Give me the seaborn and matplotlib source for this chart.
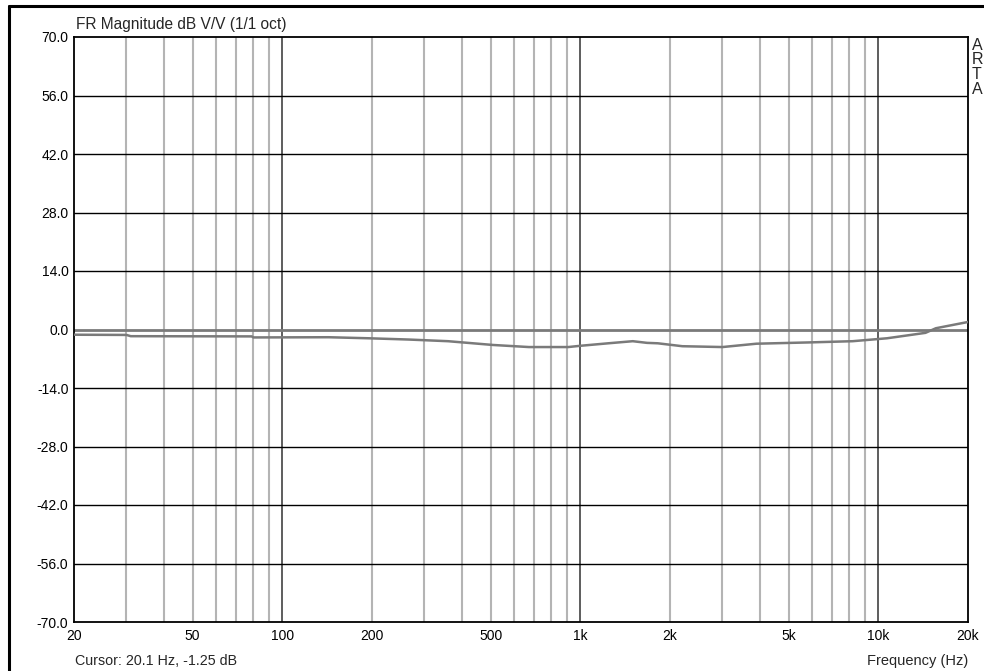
import matplotlib
matplotlib.use("Agg")
import matplotlib.pyplot as plt
import matplotlib.lines as mlines
import seaborn as sns
import pandas as pd

# Frequency response, 1/1 octave smoothed
freq_hz = [20, 30, 31, 79, 80, 143, 195, 265, 360, 509, 672, 911, 1000, 1242,
           1500, 1675, 1820, 2200, 3000, 3900, 5800, 8200, 10700, 14400, 15600, 20000]
mag_db = [-1.25, -1.3, -1.6, -1.65, -1.9, -1.85, -2.1, -2.4, -2.8, -3.7, -4.2, -4.2, -3.9, -3.3,
          -2.8, -3.2, -3.3, -4.0, -4.2, -3.4, -3.1, -2.8, -2.1, -0.8, 0.3, 1.8]

y_ticks = [70.0, 56.0, 42.0, 28.0, 14.0, 0.0, -14.0, -28.0, -42.0, -56.0, -70.0]
x_ticks = [20, 50, 100, 200, 500, 1000, 2000, 5000, 10000, 20000]
x_tick_labels = ["20", "50", "100", "200", "500", "1k", "2k", "5k", "10k", "20k"]

title = "FR Magnitude dB V/V (1/1 oct)"
cursor_text = "Cursor: 20.1 Hz, -1.25 dB"
x_label = "Frequency (Hz)"
brand = "ARTA"

sns.set_theme(style="white")
plt.rcParams["font.family"] = ["Liberation Sans", "DejaVu Sans"]

fig = plt.figure(figsize=(9.84, 6.71), dpi=100)
fig.patch.set_facecolor("white")

# outer frame lines (left and top)
fig.add_artist(mlines.Line2D([8.5 / 984, 8.5 / 984], [0, 1 - 6 / 671], color="black", lw=2.2,
                             transform=fig.transFigure))
fig.add_artist(mlines.Line2D([8.5 / 984, 1], [1 - 6 / 671, 1 - 6 / 671], color="black", lw=2.2,
                             transform=fig.transFigure))

left, right, top, bottom = 74, 968, 37, 622
ax = fig.add_axes([left / 984, (671 - bottom) / 671, (right - left) / 984, (bottom - top) / 671])
ax.set_facecolor("white")
ax.set_xscale("log")
ax.set_xlim(20, 20000)
ax.set_ylim(-70, 70)

# vertical grid: minor light grey, decades darker
for dec in [10, 100, 1000, 10000]:
    for m in range(2, 10):
        f = dec * m
        if 20 < f < 20000:
            ax.axvline(f, color="#b4b4b4", lw=1.5, zorder=1)
for f in [100, 1000, 10000]:
    ax.axvline(f, color="#505050", lw=1.3, zorder=1.5)

# horizontal grid
for yv in y_ticks[1:-1]:
    if yv == 0:
        ax.axhline(yv, color="#7a7a7a", lw=2.0, zorder=1.6)
    else:
        ax.axhline(yv, color="black", lw=1.0, zorder=1.6)

df = pd.DataFrame({"Frequency": freq_hz, "Magnitude": mag_db})
sns.lineplot(data=df, x="Frequency", y="Magnitude", ax=ax, color="#7a7a7a", lw=1.8,
             estimator=None, sort=False, zorder=3)

ax.set_xticks(x_ticks)
ax.set_xticklabels(x_tick_labels)
ax.minorticks_off()
ax.set_yticks(y_ticks)
ax.set_yticklabels([f"{v:.1f}" for v in y_ticks])
ax.tick_params(axis="both", length=0, labelsize=10, colors="black")
ax.tick_params(axis="y", pad=4)
ax.tick_params(axis="x", pad=5)
ax.set_xlabel("")
ax.set_ylabel("")

for side in ["left", "bottom", "right", "top"]:
    ax.spines[side].set_visible(True)
    ax.spines[side].set_color("black")
    ax.spines[side].set_linewidth(1.3)

fig.text(76 / 984, 1 - 25 / 671, title, fontsize=11.2, ha="left", va="center")
fig.text(75 / 984, 1 - 661 / 671, cursor_text, fontsize=10.3, ha="left", va="center")
fig.text(968 / 984, 1 - 661 / 671, x_label, fontsize=10.5, ha="right", va="center")
for i, ch in enumerate(brand):
    fig.text(972 / 984, 1 - (45 + i * 14.8) / 671, ch, fontsize=11.5, ha="left", va="center")

fig.savefig("out.png", dpi=100, facecolor="white")
